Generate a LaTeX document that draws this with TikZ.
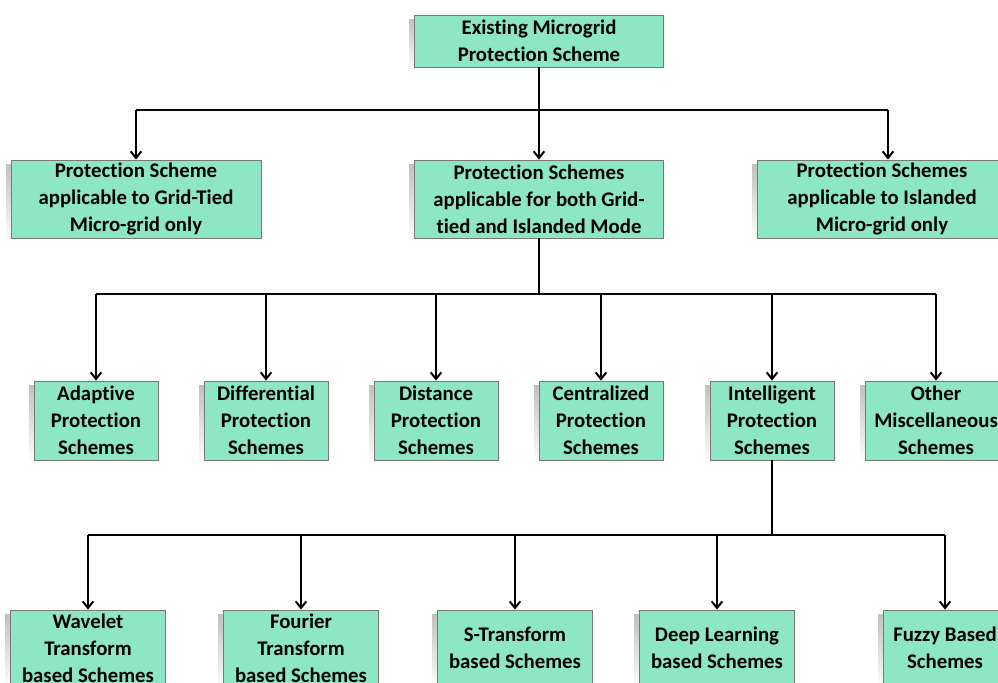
\documentclass[tikz,border=0pt]{standalone}
\usepackage{fontspec}
\setmainfont{Carlito}[Ligatures={NoCommon,NoContextual,NoRare},RawFeature={-liga;-clig;-calt;-dlig}]
\usetikzlibrary{arrows.meta,shadows,fadings}
\definecolor{mint}{RGB}{141,231,196}
\definecolor{edgegray}{RGB}{120,120,120}
\tikzset{
  box/.style={draw=edgegray, line width=0.6pt, fill=mint, align=center, inner sep=0pt,
    font=\fontsize{15.6pt}{20.25pt}\selectfont\bfseries,
    drop shadow={shadow xshift=-4pt, shadow yshift=-3pt, opacity=0.45, fill=black!55, path fading=south}},
  link/.style={line width=1.5pt, black},
  arr/.style={link, -{Straight Barb[length=5pt,width=8pt]}}
}
\begin{document}
\begin{tikzpicture}[x=0.75pt,y=-0.75pt]
\useasboundingbox (0,0) rectangle (998,682);
\begin{scope}
\clip (0,0) rectangle (998,682);
% top
\node[box, minimum width=186.75pt, minimum height=39pt] (top) at (539,41) {Existing Microgrid\\Protection Scheme};
% row 1
\node[box, minimum width=187.5pt, minimum height=58.5pt] (grid) at (136,199) {\raisebox{-1pt}{\parbox[c]{186pt}{\centering Protection Scheme\\applicable to Grid-Tied\\Micro-grid only}}};
\node[box, minimum width=186.75pt, minimum height=58.5pt] (both) at (539,199) {\raisebox{-1pt}{\parbox[c]{186pt}{\centering Protection Schemes\\applicable for both Grid-\\tied and Islanded Mode}}};
\node[box, minimum width=187.5pt, minimum height=58.5pt] (isl) at (882,199) {\raisebox{-1pt}{\parbox[c]{186pt}{\centering Protection Schemes\\applicable to Islanded\\Micro-grid only}}};
% row 2
\node[box, minimum width=93pt, minimum height=59.25pt] (adap) at (96,420.5) {Adaptive\\Protection\\Schemes};
\node[box, minimum width=93pt, minimum height=59.25pt] (diff) at (266,420.5) {Differential\\Protection\\Schemes};
\node[box, minimum width=93pt, minimum height=59.25pt] (dist) at (436,420.5) {Distance\\Protection\\Schemes};
\node[box, minimum width=93pt, minimum height=59.25pt] (cent) at (601,420.5) {Centralized\\Protection\\Schemes};
\node[box, minimum width=93pt, minimum height=59.25pt] (intl) at (772,420.5) {Intelligent\\Protection\\Schemes};
\node[box, minimum width=106.5pt, minimum height=59.25pt] (misc) at (936,420.5) {Other\\Miscellaneous\\Schemes};
% row 3
\node[box, minimum width=116.25pt, minimum height=57pt] (wave) at (88,648) {Wavelet\\Transform\\based Schemes};
\node[box, minimum width=116.25pt, minimum height=57pt] (four) at (301,648) {Fourier\\Transform\\based Schemes};
\node[box, minimum width=116.25pt, minimum height=57pt] (stra) at (515,648) {S-Transform\\based Schemes};
\node[box, minimum width=116.25pt, minimum height=57pt] (deep) at (717,648) {Deep Learning\\based Schemes};
\node[box, minimum width=93pt, minimum height=57pt] (fuzz) at (945,648) {Fuzzy Based\\Schemes};
\end{scope}
% level 1
\coordinate (j1) at (539,110);
\coordinate (gl) at (grid.north |- j1);
\coordinate (ir) at ([xshift=4.5pt]isl.north |- j1);
\draw[link] (top.south) -- (j1);
\draw[link] (gl) -- (ir);
\draw[arr] (gl) -- (grid.north);
\draw[arr] (j1) -- (both.north);
\draw[arr] (ir) -- ([xshift=4.5pt]isl.north);
% level 2
\coordinate (j2) at (539,294);
\draw[link] (both.south) -- (j2);
\draw[link] (adap.north |- j2) -- (misc.north |- j2);
\foreach \n in {adap,diff,dist,cent,intl,misc}{
  \draw[arr] (\n.north |- j2) -- (\n.north);
}
% level 3
\coordinate (j3) at (772,535);
\draw[link] (intl.south) -- (j3);
\draw[link] (wave.north |- j3) -- (fuzz.north |- j3);
\foreach \n in {wave,four,stra,deep,fuzz}{
  \draw[arr] (\n.north |- j3) -- (\n.north);
}
\end{tikzpicture}
\end{document}
